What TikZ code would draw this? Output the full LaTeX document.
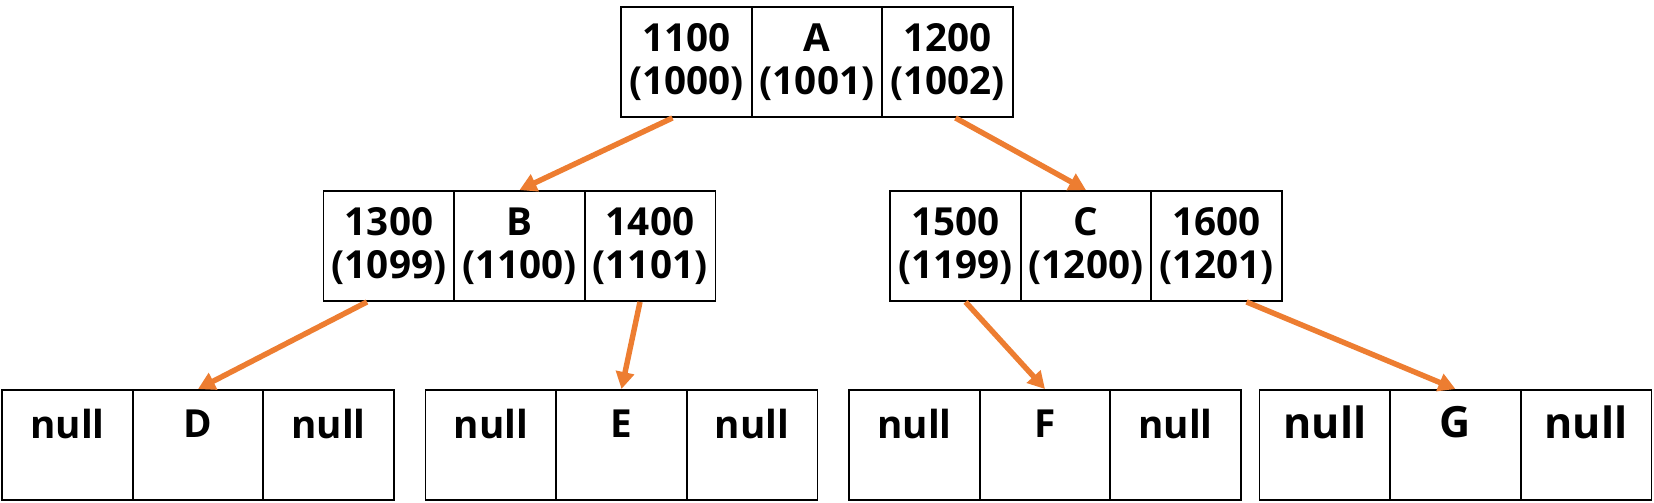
\documentclass[tikz,border=0pt]{standalone}
\usepackage{fontspec}
\setmainfont{Open Sans}
\usetikzlibrary{arrows.meta,calc}
\definecolor{ink}{HTML}{000000}
\definecolor{ptrc}{HTML}{ED7D31}

\begin{document}
\begin{tikzpicture}[x=0.02cm,y=0.02cm,every node/.style={font=\bfseries\fontsize{22}{24.5}\selectfont},
  cell/.style={draw=ink,line width=1.1pt,minimum width=2.62cm,minimum height=2.2cm,inner sep=0pt,align=center},
  ptr/.style={-{Triangle[length=0.34cm,width=0.36cm]},draw=ptrc,fill=ptrc,line width=3.1pt}]
  \useasboundingbox (0,0) rectangle (1654,503);
  % root record
  \node[cell] (A) at (817,441) {A\\(1001)};
  \node[cell] (Al) at (686.5,441) {1100\\(1000)};
  \node[cell] (Ar) at (947.5,441) {1200\\(1002)};
  % second level
  \node[cell] (B) at (519.5,257) {B\\(1100)};
  \node[cell] (Bl) at (389,257) {1300\\(1099)};
  \node[cell] (Br) at (650,257) {1400\\(1101)};
  \node[cell] (C) at (1086,257) {C\\(1200)};
  \node[cell] (Cl) at (955.5,257) {1500\\(1199)};
  \node[cell] (Cr) at (1216.5,257) {1600\\(1201)};
  % leaves
  \node[cell] (D) at (198,58) {D\\\mbox{}};
  \node[cell] (Dl) at (67.5,58) {null\\\mbox{}};
  \node[cell] (Dr) at (328.5,58) {null\\\mbox{}};
  \node[cell] (E) at (621.5,58) {E\\\mbox{}};
  \node[cell] (El) at (491,58) {null\\\mbox{}};
  \node[cell] (Er) at (752,58) {null\\\mbox{}};
  \node[cell] (F) at (1045,58) {F\\\mbox{}};
  \node[cell] (Fl) at (914.5,58) {null\\\mbox{}};
  \node[cell] (Fr) at (1175.5,58) {null\\\mbox{}};
  \begin{scope}[every node/.style={font=\bfseries\fontsize{24.5}{26}\selectfont}]
  \node[cell] (G) at (1455.5,58) {G\\\mbox{}};
  \node[cell] (Gl) at (1325,58) {null\\\mbox{}};
  \node[cell] (Gr) at (1586,58) {null\\\mbox{}};
  \end{scope}
  % pointers
  \draw[ptr] ($(Al.south)+(-14,0)$) -- (B.north);
  \draw[ptr] ($(Ar.south)+(8,0)$) -- (C.north);
  \draw[ptr] ($(Bl.south)+(-22,0)$) -- (D.north);
  \draw[ptr] ($(Br.south)+(-10,0)$) -- (E.north);
  \draw[ptr] ($(Cl.south)+(10,0)$) -- (F.north);
  \draw[ptr] ($(Cr.south)+(30,0)$) -- (G.north);
\end{tikzpicture}
\end{document}
